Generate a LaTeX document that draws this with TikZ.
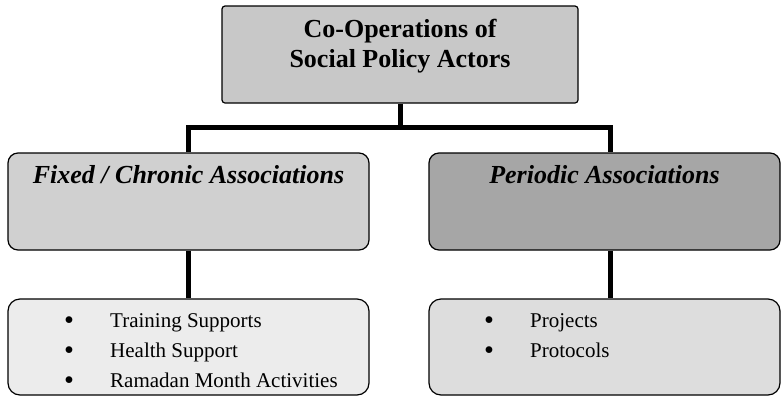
\documentclass[tikz,border=0pt]{standalone}
\usepackage{fontspec}
\setmainfont{Liberation Serif}
\usetikzlibrary{positioning}
\definecolor{topgray}{RGB}{200,200,200}
\definecolor{fixgray}{RGB}{208,208,208}
\definecolor{pergray}{RGB}{166,166,166}
\definecolor{fixlistgray}{RGB}{236,236,236}
\definecolor{perlistgray}{RGB}{221,221,221}
\newcommand{\itembullet}{\raisebox{-2pt}{\scalebox{1.35}{\textbullet}}}
\tikzstyle{box} = [draw=black, line width=1.2pt, inner sep=0pt, minimum height=97pt]
\tikzstyle{link} = [line width=5pt]
\tikzstyle{headtext} = [inner sep=0pt, anchor=base, font=\bfseries\itshape\fontsize{26}{30}\selectfont]
\tikzstyle{listtext} = [inner sep=0pt, anchor=base west, font=\fontsize{21}{30}\selectfont]

\begin{document}
\begin{tikzpicture}[x=1pt, y=-1pt]
		\useasboundingbox (0,0) rectangle (782,397);
		
		% top
		\node[box, fill=topgray, rounded corners=3pt, minimum width=356pt] (title) at (400,54.5) {};
		\node[inner sep=0pt, anchor=base, font=\bfseries\fontsize{26}{30}\selectfont] (titlea) at (400,37) {Co-Operations of};
		\node[inner sep=0pt, anchor=base, font=\bfseries\fontsize{26}{30}\selectfont] (titleb) at (400,67) {Social Policy Actors};
		
		% associations
		\node[box, fill=fixgray, rounded corners=10pt, minimum width=361pt] (fixed) at (188.5,201.5) {};
		\node[headtext] (fixedtext) at (188.5,183) {Fixed / Chronic Associations};
		\node[box, fill=pergray, rounded corners=10pt, minimum width=351pt] (periodic) at (604.5,201.5) {};
		\node[headtext] (periodictext) at (604.5,183) {Periodic Associations};
		
		% lists
		\node[box, fill=fixlistgray, rounded corners=12pt, minimum width=361pt, minimum height=96pt] (fixedlist) at (188.5,347) {};
		\node[listtext] (fixeditems) at (64,327) {\begin{tabular}[t]{@{}p{46pt}@{}l@{}}
			\itembullet & Training Supports\\
			\itembullet & Health Support\\
			\itembullet & Ramadan Month Activities
		\end{tabular}};
		\node[box, fill=perlistgray, rounded corners=12pt, minimum width=351pt, minimum height=96pt] (periodiclist) at (604.5,347) {};
		\node[listtext] (periodicitems) at (484,327) {\begin{tabular}[t]{@{}p{46pt}@{}l@{}}
			\itembullet & Projects\\
			\itembullet & Protocols
		\end{tabular}};
		
		% connections
		\coordinate (split) at (400,127);
		\draw[link] (title) -- (split);
		\draw[link] (fixed.north) |- (split) -| ([xshift=5.5pt]periodic.north);
		\draw[link] (fixed) -- (fixedlist);
		\draw[link] ([xshift=5.5pt]periodic.south) -- ([xshift=5.5pt]periodiclist.north);
		
	\end{tikzpicture}
\end{document}
